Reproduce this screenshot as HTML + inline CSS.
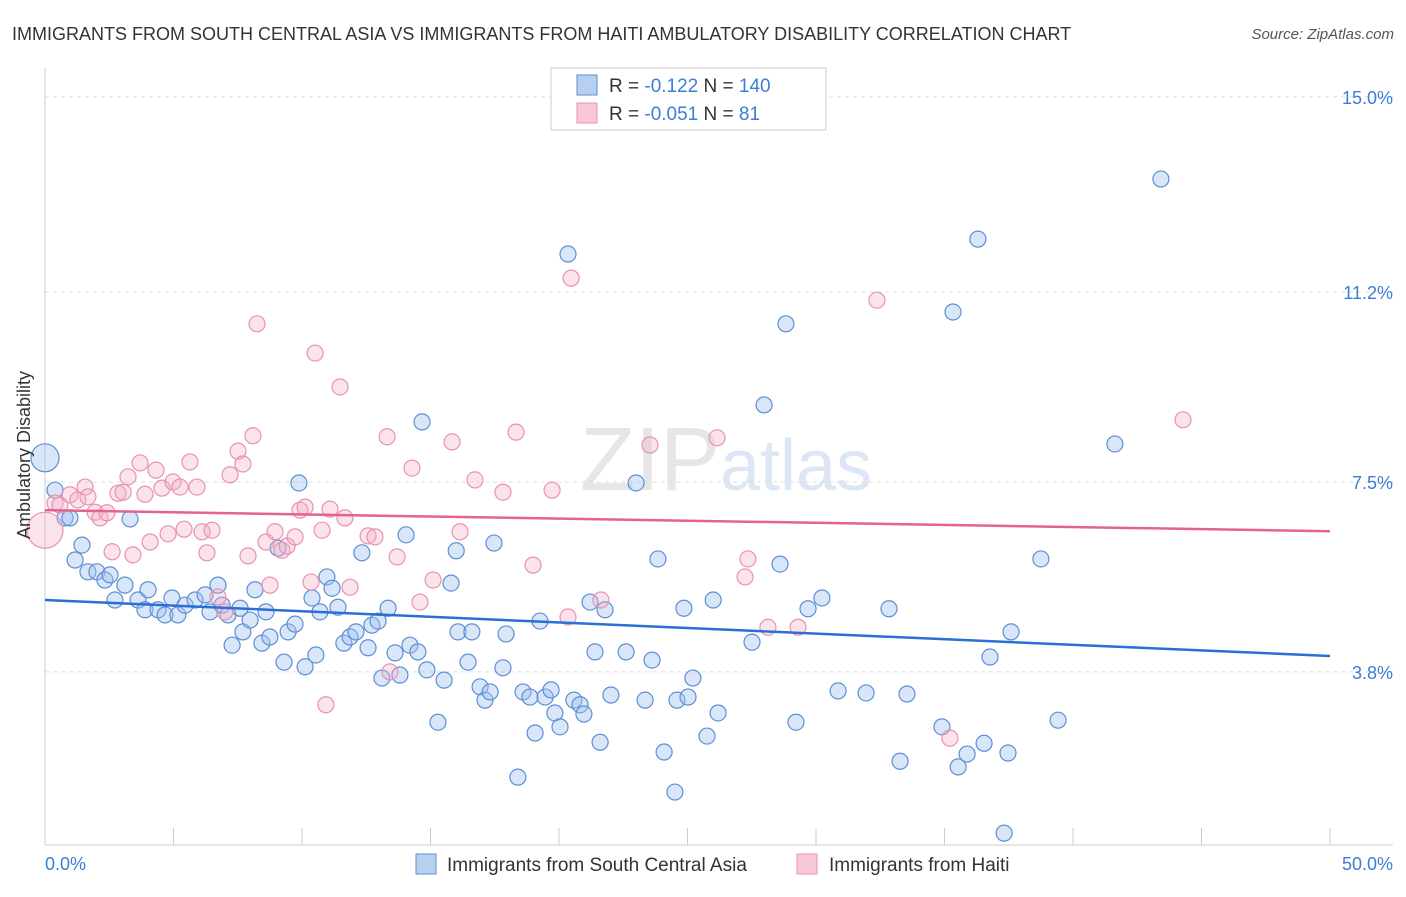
<!DOCTYPE html>
<html><head><meta charset="utf-8"><style>
body{margin:0;background:#fff;font-family:"Liberation Sans",sans-serif}
svg text{font-family:"Liberation Sans",sans-serif}
</style></head><body>
<svg width="1406" height="892">
<text x="12" y="40" font-size="18" fill="#333">IMMIGRANTS FROM SOUTH CENTRAL ASIA VS IMMIGRANTS FROM HAITI AMBULATORY DISABILITY CORRELATION CHART</text>
<text x="1394" y="39" font-size="15" fill="#555" font-style="italic" text-anchor="end">Source: ZipAtlas.com</text>
<text x="720" y="490" font-size="90" fill="#e6e6e6" text-anchor="end" font-family="Liberation Serif">ZIP</text>
<text x="720" y="490" font-size="72" fill="#dce6f5">atlas</text>
<g id="grid"></g><g id="axes"></g><g id="pts"></g><g id="trend"></g>
<text x="30" y="455" font-size="18" fill="#333" transform="rotate(-90 30 455)" text-anchor="middle">Ambulatory Disability</text>
<text x="45" y="870" font-size="18" fill="#3b7dd8">0.0%</text>
<text x="1393" y="870" font-size="18" fill="#3b7dd8" text-anchor="end">50.0%</text>
<g>
<rect x="551" y="68" width="275" height="62" fill="#fff" stroke="#ccc"/>
<rect x="577" y="75" width="20" height="20" fill="#b8cff0" stroke="#5b8fd6"/>
<rect x="577" y="103" width="20" height="20" fill="#f8c8d8" stroke="#e892b0"/>
<text x="609" y="92" font-size="19" fill="#333">R = <tspan fill="#3b7dd8">-0.122</tspan>   N = <tspan fill="#3b7dd8">140</tspan></text>
<text x="609" y="120" font-size="19" fill="#333">R = <tspan fill="#3b7dd8">-0.051</tspan>   N = <tspan fill="#3b7dd8">  81</tspan></text>
</g>
<g>
<rect x="416" y="854" width="20" height="20" fill="#b8cff0" stroke="#5b8fd6"/>
<text x="447" y="871" font-size="19" fill="#333">Immigrants from South Central Asia</text>
<rect x="797" y="854" width="20" height="20" fill="#f8c8d8" stroke="#e892b0"/>
<text x="829" y="871" font-size="19" fill="#333">Immigrants from Haiti</text>
</g>
</svg>
<script>
const yTicks=[15.0,11.2,7.5,3.8];
const yTickLabels=["15.0%","11.2%","7.5%","3.8%"];
const xTicks=[0,5,10,15,20,25,30,35,40,45,50];
const blueX=[0,0.39,0.78,0.97,1.44,1.17,1.67,2.02,2.33,2.53,3.11,2.72,3.31,3.62,4.01,3.89,4.40,4.67,4.94,5.17,5.45,5.84,6.23,6.42,6.73,6.89,7.12,7.28,7.59,7.70,7.98,8.17,8.44,8.60,8.75,9.07,9.30,9.46,9.73,9.88,10.12,10.39,10.54,10.70,10.97,11.17,11.40,11.63,11.87,12.10,12.33,12.57,12.72,12.96,13.11,13.35,13.62,13.81,14.05,14.20,14.51,14.67,14.86,15.29,15.53,15.80,16.00,16.07,16.46,16.61,16.93,17.12,17.32,17.47,17.82,17.94,18.40,18.60,18.87,19.07,19.26,19.46,19.69,19.84,20.04,20.35,20.58,20.82,20.97,21.21,21.40,21.60,21.79,22.02,22.61,23.00,23.35,23.62,23.85,24.09,24.51,24.59,24.86,25.02,25.21,25.76,26.00,26.19,27.51,27.98,28.60,28.83,29.22,29.69,30.23,30.86,31.95,32.84,33.27,33.54,34.90,35.33,35.53,35.88,36.30,36.54,36.77,37.32,37.47,37.59,38.75,39.42,41.63,43.42];
const blueY=[7.97,7.34,6.80,6.80,6.27,5.98,5.75,5.75,5.59,5.69,5.49,5.20,6.78,5.20,5.40,5.01,5.01,4.91,5.24,4.91,5.10,5.20,5.30,4.97,5.49,5.10,4.91,4.32,5.04,4.58,4.81,5.40,4.36,4.97,4.48,6.21,3.99,4.58,4.73,7.48,3.90,5.24,4.13,4.97,5.65,5.43,5.06,4.36,4.48,4.58,6.12,4.27,4.71,4.79,3.68,5.04,4.17,3.74,6.47,4.32,4.19,8.67,3.84,2.82,3.64,5.53,6.16,4.58,3.99,4.58,3.51,3.25,3.41,6.31,3.88,4.54,1.75,3.41,3.31,2.61,4.79,3.31,3.45,3.00,2.73,11.94,3.25,3.16,2.98,5.16,4.19,2.43,5.01,3.35,4.19,7.48,3.25,4.03,6.00,2.24,1.46,3.25,5.04,3.31,3.68,2.55,5.20,3.00,4.38,9.00,5.90,10.58,2.82,5.03,5.24,3.43,3.39,5.03,2.06,3.37,2.73,10.81,1.95,2.20,12.23,2.41,4.09,0.66,2.22,4.58,6.00,2.86,8.24,13.40];
const pinkX=[0,0.39,0.58,0.97,1.28,1.56,1.67,1.95,2.14,2.41,2.61,2.84,3.04,3.23,3.42,3.70,3.89,4.09,4.32,4.55,4.79,4.98,5.25,5.41,5.64,5.91,6.11,6.30,6.50,6.73,7.00,7.20,7.51,7.70,7.90,8.09,8.25,8.60,8.75,8.95,9.22,9.42,9.73,9.92,10.12,10.35,10.51,10.78,10.93,11.09,11.48,11.67,11.87,12.57,12.84,13.31,13.42,13.70,14.28,14.59,15.10,15.84,16.15,16.73,17.82,18.33,18.99,19.73,20.35,20.47,21.63,23.54,26.15,27.24,27.35,28.13,29.30,32.37,35.21,44.28];
const pinkY=[6.56,7.09,7.05,7.25,7.15,7.40,7.21,6.91,6.80,6.90,6.14,7.28,7.30,7.60,6.08,7.87,7.26,6.33,7.73,7.38,6.49,7.50,7.40,6.58,7.89,7.40,6.53,6.12,6.56,5.26,4.97,7.64,8.10,7.85,6.06,8.40,10.58,6.33,5.49,6.53,6.17,6.25,6.43,6.95,7.01,5.55,10.01,6.56,3.16,6.97,9.35,6.80,5.45,6.45,6.43,8.38,3.80,6.04,7.77,5.16,5.59,8.28,6.53,7.54,7.30,8.47,5.88,7.34,4.87,11.47,5.20,8.22,8.36,5.65,6.00,4.67,4.67,11.04,2.51,8.71];
const blueTrend=[5.2,4.11];
const pinkTrend=[6.95,6.54];
const NS='http://www.w3.org/2000/svg';
const xs=v=>45+v*25.7, ys=v=>867-v*51.34;
function mk(t,a,p){const e=document.createElementNS(NS,t);for(const k in a)e.setAttribute(k,a[k]);document.getElementById(p).appendChild(e);return e;}
yTicks.forEach((t,i)=>{
 const l=mk('line',{x1:45,x2:1393,y1:ys(t),y2:ys(t),stroke:'#ddd','stroke-dasharray':'4,4'},'grid');
 
 
 const tx=mk('text',{x:1393,y:ys(t)+7,'font-size':18,fill:'#3b7dd8','text-anchor':'end'},'grid');
 tx.textContent=yTickLabels[i];
 
 
});
const ax=mk('line',{x1:45,x2:45,y1:68,y2:845,stroke:'#ccc'},'axes');


const bx=mk('line',{x1:45,x2:1393,y1:845,y2:845,stroke:'#ccc'},'axes');


xTicks.forEach(t=>{
 const l=mk('line',{x1:xs(t),x2:xs(t),y1:828,y2:845,stroke:'#ccc'},'axes');
 
 
});
blueX.forEach((x,i)=>{
 const big=i===0;
 const c=mk('circle',{cx:xs(x),cy:ys(blueY[i]),r:big?14:8,fill:'rgba(160,192,238,0.4)',stroke:'#5b8fd6','stroke-width':1.2},'pts');
 
 
});
pinkX.forEach((x,i)=>{
 const big=i===0;
 const c=mk('circle',{cx:xs(x),cy:ys(pinkY[i]),r:big?18:8,fill:'rgba(244,175,200,0.35)',stroke:'#e892b0','stroke-width':1.2},'pts');
 
 
});
const bt=mk('line',{x1:xs(0),x2:xs(50),y1:ys(blueTrend[0]),y2:ys(blueTrend[1]),stroke:'#2a6fd6','stroke-width':2.5},'trend');


const pt=mk('line',{x1:xs(0),x2:xs(50),y1:ys(pinkTrend[0]),y2:ys(pinkTrend[1]),stroke:'#e4628f','stroke-width':2.5},'trend');


</script>
</body></html>
